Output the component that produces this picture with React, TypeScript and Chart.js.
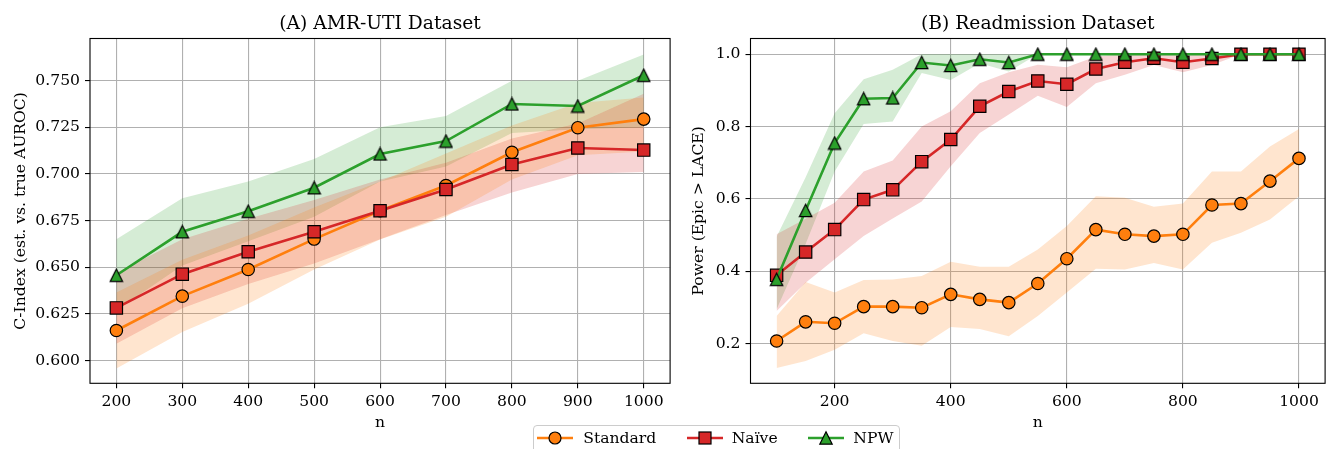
import React, { useEffect, useRef } from "react";
import { Chart, registerables } from "chart.js";

Chart.register(...registerables);

// ---------- (A) AMR-UTI ----------
const amrN = [200, 300, 400, 500, 600, 700, 800, 900, 1000];
const amrStandard = [0.6161, 0.6345, 0.6488, 0.6651, 0.6803, 0.6938, 0.7116, 0.7248, 0.7294];
const amrStandardLo = [0.5957, 0.6153, 0.6305, 0.6488, 0.6649, 0.677, 0.697, 0.71, 0.712];
const amrStandardHi = [0.6365, 0.654, 0.667, 0.682, 0.696, 0.711, 0.726, 0.738, 0.741];
const amrNaive = [0.6282, 0.6463, 0.6583, 0.669, 0.6803, 0.6917, 0.7051, 0.7139, 0.7128];
const amrNaiveLo = [0.609, 0.628, 0.641, 0.652, 0.665, 0.678, 0.69, 0.7, 0.701];
const amrNaiveHi = [0.647, 0.665, 0.676, 0.686, 0.697, 0.706, 0.719, 0.727, 0.743];
const amrNPW = [0.6457, 0.669, 0.68, 0.6926, 0.7107, 0.7176, 0.7375, 0.7364, 0.7529];
const amrNPWLo = [0.627, 0.651, 0.664, 0.677, 0.696, 0.704, 0.722, 0.724, 0.725];
const amrNPWHi = [0.665, 0.687, 0.696, 0.708, 0.725, 0.731, 0.75, 0.75, 0.764];
const amrXTicks = [200, 300, 400, 500, 600, 700, 800, 900, 1000];
const amrYTicks = [0.6, 0.625, 0.65, 0.675, 0.7, 0.725, 0.75];

// ---------- (B) Readmission ----------
const readmN = [100, 150, 200, 250, 300, 350, 400, 450, 500, 550, 600, 650, 700, 750, 800, 850, 900, 950, 1000];
const readmStandard = [0.207, 0.26, 0.256, 0.302, 0.302, 0.299, 0.336, 0.322, 0.313, 0.366, 0.4345, 0.515, 0.502, 0.497, 0.502, 0.583, 0.587, 0.649, 0.712];
const readmStandardLo = [0.132, 0.152, 0.1825, 0.2285, 0.207, 0.194, 0.246, 0.24, 0.22, 0.276, 0.341, 0.407, 0.405, 0.423, 0.405, 0.479, 0.506, 0.543, 0.607];
const readmStandardHi = [0.276, 0.37, 0.341, 0.376, 0.377, 0.387, 0.426, 0.412, 0.412, 0.46, 0.525, 0.607, 0.603, 0.578, 0.587, 0.676, 0.676, 0.745, 0.793];
const readmNaive = [0.3885, 0.453, 0.515, 0.598, 0.625, 0.703, 0.764, 0.856, 0.897, 0.926, 0.917, 0.959, 0.978, 0.989, 0.978, 0.988, 1.0, 1.0, 1.0];
const readmNaiveLo = [0.29, 0.368, 0.433, 0.497, 0.546, 0.593, 0.69, 0.782, 0.833, 0.885, 0.854, 0.92, 0.943, 0.97, 0.95, 0.97, 1.0, 1.0, 1.0];
const readmNaiveHi = [0.502, 0.545, 0.589, 0.676, 0.706, 0.8, 0.842, 0.92, 0.95, 0.971, 0.964, 0.994, 1.0, 1.0, 1.0, 1.0, 1.0, 1.0, 1.0];
const readmNPW = [0.3775, 0.568, 0.7545, 0.877, 0.879, 0.977, 0.969, 0.986, 0.977, 1.0, 1.0, 1.0, 1.0, 1.0, 1.0, 1.0, 1.0, 1.0, 1.0];
const readmNPWLo = [0.295, 0.475, 0.676, 0.807, 0.814, 0.948, 0.929, 0.975, 0.952, 1.0, 1.0, 1.0, 1.0, 1.0, 1.0, 1.0, 1.0, 1.0, 1.0];
const readmNPWHi = [0.495, 0.66, 0.837, 0.931, 0.957, 1.0, 1.0, 1.0, 1.0, 1.0, 1.0, 1.0, 1.0, 1.0, 1.0, 1.0, 1.0, 1.0, 1.0];
const readmXTicks = [200, 400, 600, 800, 1000];
const readmYTicks = [0.2, 0.4, 0.6, 0.8, 1.0];

const seriesLabels = ["Standard", "Naïve", "NPW"];
const ORANGE = "#ff7f0e";
const RED = "#d62728";
const GREEN = "#2ca02c";
const FONT = '"DejaVu Serif", "Liberation Serif", serif';
const TICK_SIZE = 15.6;
const TITLE_SIZE = 18.7;

function pts(xs: number[], ys: number[]) {
  return xs.map((x, i) => ({ x, y: ys[i] }));
}

function makeTriangle(): HTMLCanvasElement {
  const c = document.createElement("canvas");
  c.width = 15;
  c.height = 15;
  const g = c.getContext("2d")!;
  g.beginPath();
  g.moveTo(7.5, 1.3);
  g.lineTo(13.7, 13.7);
  g.lineTo(1.3, 13.7);
  g.closePath();
  g.fillStyle = GREEN;
  g.fill();
  g.lineWidth = 1.2;
  g.strokeStyle = "#000";
  g.lineJoin = "miter";
  g.stroke();
  return c;
}

type SeriesDef = {
  color: string;
  fill: string;
  values: number[];
  lo: number[];
  hi: number[];
  style: any;
  radius: number;
};

function makeDatasets(xs: number[], series: SeriesDef[]) {
  const ds: any[] = [];
  series.forEach((s, k) => {
    ds.push({
      type: "line",
      data: pts(xs, s.values),
      borderColor: s.color,
      borderWidth: 2.6,
      pointStyle: s.style,
      pointRadius: s.radius,
      pointHoverRadius: s.radius,
      pointBackgroundColor: s.color,
      pointBorderColor: "#000",
      pointBorderWidth: 1.2,
      fill: false,
      tension: 0,
      order: series.length - 1 - k,
    });
  });
  series.forEach((s) => {
    const loIdx = ds.length;
    ds.push({
      type: "line",
      data: pts(xs, s.lo),
      borderWidth: 0,
      borderColor: "transparent",
      pointRadius: 0,
      pointHoverRadius: 0,
      fill: false,
      order: 10,
    });
    ds.push({
      type: "line",
      data: pts(xs, s.hi),
      borderWidth: 0,
      borderColor: "transparent",
      backgroundColor: s.fill,
      pointRadius: 0,
      pointHoverRadius: 0,
      fill: loIdx,
      order: 10,
    });
  });
  return ds;
}

const framePlugin = {
  id: "frame",
  afterDatasetsDraw(chart: any) {
    const { ctx, chartArea } = chart;
    const { left, top, right, bottom } = chartArea;
    ctx.save();
    ctx.strokeStyle = "#000";
    ctx.lineWidth = 1.1;
    ctx.strokeRect(left, top, right - left, bottom - top);
    ctx.restore();
  },
};

function titlePlugin(text: string) {
  return {
    id: "axTitle",
    afterDraw(chart: any) {
      const { ctx, chartArea } = chart;
      ctx.save();
      ctx.font = `${TITLE_SIZE}px ${FONT}`;
      ctx.fillStyle = "#000";
      ctx.textAlign = "center";
      ctx.textBaseline = "middle";
      ctx.fillText(text, (chartArea.left + chartArea.right) / 2, 24);
      ctx.restore();
    },
  };
}

type PanelCfg = {
  title: string;
  yTitle: string;
  xs: number[];
  series: SeriesDef[];
  xMin: number;
  xMax: number;
  yMin: number;
  yMax: number;
  xTicks: number[];
  yTicks: number[];
  yDecimals: number;
  yAxisWidth: number;
  yTitlePad: number;
  padRight: number;
};

function buildConfig(p: PanelCfg): any {
  return {
    type: "line",
    data: { datasets: makeDatasets(p.xs, p.series) },
    options: {
      animation: false,
      responsive: false,
      events: [],
      layout: { padding: { top: 38.5, right: p.padRight, bottom: 0, left: 0 } },
      plugins: {
        legend: { display: false },
        tooltip: { enabled: false },
        title: { display: false },
      },
      scales: {
        x: {
          type: "linear",
          bounds: "data",
          min: p.xMin,
          max: p.xMax,
          afterBuildTicks: (ax: any) => {
            ax.ticks = p.xTicks.map((v) => ({ value: v }));
          },
          afterFit: (ax: any) => {
            ax.height = 65.7;
          },
          grid: {
            color: "#b0b0b0",
            lineWidth: 1.1,
            tickColor: "#000",
            tickLength: 5,
            tickWidth: 1.1,
          },
          border: { display: false },
          ticks: {
            padding: 4,
            color: "#000",
            font: { family: FONT, size: TICK_SIZE },
            maxRotation: 0,
            autoSkip: false,
            callback: (v: any) => String(v),
          },
          title: {
            display: true,
            text: "n",
            color: "#000",
            font: { family: FONT, size: TICK_SIZE },
            padding: { top: 0, bottom: 17 },
          },
        },
        y: {
          type: "linear",
          bounds: "data",
          min: p.yMin,
          max: p.yMax,
          afterBuildTicks: (ax: any) => {
            ax.ticks = p.yTicks.map((v) => ({ value: v }));
          },
          afterFit: (ax: any) => {
            ax.width = p.yAxisWidth;
          },
          grid: {
            color: "#b0b0b0",
            lineWidth: 1.1,
            tickColor: "#000",
            tickLength: 5,
            tickWidth: 1.1,
          },
          border: { display: false },
          ticks: {
            padding: 5,
            color: "#000",
            font: { family: FONT, size: TICK_SIZE },
            autoSkip: false,
            callback: (v: any) => Number(v).toFixed(p.yDecimals),
          },
          title: {
            display: true,
            text: p.yTitle,
            color: "#000",
            font: { family: FONT, size: TICK_SIZE },
            padding: { top: p.yTitlePad, bottom: 0 },
          },
        },
      },
    },
    plugins: [framePlugin, titlePlugin(p.title)],
  };
}

function Panel({ cfg, left, width }: { cfg: () => PanelCfg; left: number; width: number }) {
  const ref = useRef<HTMLCanvasElement | null>(null);
  useEffect(() => {
    if (!ref.current) return;
    const chart = new Chart(ref.current, buildConfig(cfg()));
    return () => chart.destroy();
  }, []);
  return (
    <canvas
      ref={ref}
      width={width}
      height={449}
      style={{ position: "absolute", left, top: 0, width, height: 449 }}
    />
  );
}

function LegendIcon({ color, kind }: { color: string; kind: string }) {
  return (
    <svg width={36} height={20} style={{ position: "absolute", left: 0, top: 0 }}>
      <line x1={0} y1={10} x2={36} y2={10} stroke={color} strokeWidth={2.6} />
      {kind === "circle" && <circle cx={18} cy={10} r={6} fill={color} stroke="#000" strokeWidth={1.2} />}
      {kind === "rect" && <rect x={12} y={4} width={12} height={12} fill={color} stroke="#000" strokeWidth={1.2} />}
      {kind === "tri" && <polygon points="18,3.8 24.2,16.2 11.8,16.2" fill={color} stroke="#000" strokeWidth={1.2} />}
    </svg>
  );
}

function Legend() {
  const items = [
    { label: seriesLabels[0], color: ORANGE, kind: "circle", icon: 4, text: 50.3 },
    { label: seriesLabels[1], color: RED, kind: "rect", icon: 153.7, text: 198.7 },
    { label: seriesLabels[2], color: GREEN, kind: "tri", icon: 275.3, text: 320.3 },
  ];
  return (
    <div
      style={{
        position: "absolute",
        left: 533,
        top: 425,
        width: 367,
        height: 34,
        border: "1px solid #cccccc",
        borderRadius: 4,
        background: "rgba(255,255,255,0.8)",
        boxSizing: "border-box",
        fontFamily: FONT,
        fontSize: TICK_SIZE,
        color: "#000",
      }}
    >
      {items.map((it) => (
        <React.Fragment key={it.label}>
          <div style={{ position: "absolute", left: it.icon - 1, top: 2, width: 36, height: 20 }}>
            <LegendIcon color={it.color} kind={it.kind} />
          </div>
          <div
            style={{
              position: "absolute",
              left: it.text - 1,
              top: 2,
              height: 20,
              lineHeight: "20px",
              whiteSpace: "nowrap",
            }}
          >
            {it.label}
          </div>
        </React.Fragment>
      ))}
    </div>
  );
}

export default function App() {
  const amrCfg = (): PanelCfg => {
    const tri = makeTriangle();
    return {
      title: "(A) AMR-UTI Dataset",
      yTitle: "C-Index (est. vs. true AUROC)",
      xs: amrN,
      series: [
        { color: ORANGE, fill: "rgba(255,127,14,0.2)", values: amrStandard, lo: amrStandardLo, hi: amrStandardHi, style: "circle", radius: 6.2 },
        { color: RED, fill: "rgba(214,39,40,0.2)", values: amrNaive, lo: amrNaiveLo, hi: amrNaiveHi, style: "rect", radius: 8.7 },
        { color: GREEN, fill: "rgba(44,160,44,0.2)", values: amrNPW, lo: amrNPWLo, hi: amrNPWHi, style: tri, radius: 7 },
      ],
      xMin: 160,
      xMax: 1040,
      yMin: 0.5878,
      yMax: 0.7726,
      xTicks: amrXTicks,
      yTicks: amrYTicks,
      yDecimals: 3,
      yAxisWidth: 90,
      yTitlePad: 11.2,
      padRight: 3.3,
    };
  };
  const readmCfg = (): PanelCfg => {
    const tri = makeTriangle();
    return {
      title: "(B) Readmission Dataset",
      yTitle: "Power (Epic > LACE)",
      xs: readmN,
      series: [
        { color: ORANGE, fill: "rgba(255,127,14,0.2)", values: readmStandard, lo: readmStandardLo, hi: readmStandardHi, style: "circle", radius: 6.2 },
        { color: RED, fill: "rgba(214,39,40,0.2)", values: readmNaive, lo: readmNaiveLo, hi: readmNaiveHi, style: "rect", radius: 8.7 },
        { color: GREEN, fill: "rgba(44,160,44,0.2)", values: readmNPW, lo: readmNPWLo, hi: readmNPWHi, style: tri, radius: 7 },
      ],
      xMin: 55,
      xMax: 1045,
      yMin: 0.09,
      yMax: 1.0435,
      xTicks: readmXTicks,
      yTicks: readmYTicks,
      yDecimals: 1,
      yAxisWidth: 70.5,
      yTitlePad: 9.4,
      padRight: 0.4,
    };
  };
  return (
    <div
      style={{
        position: "fixed",
        left: 0,
        top: 0,
        width: 1330,
        height: 449,
        overflow: "hidden",
        background: "#fff",
      }}
    >
      <Panel cfg={amrCfg} left={0} width={680} />
      <Panel cfg={readmCfg} left={680} width={655} />
      <Legend />
    </div>
  );
}
